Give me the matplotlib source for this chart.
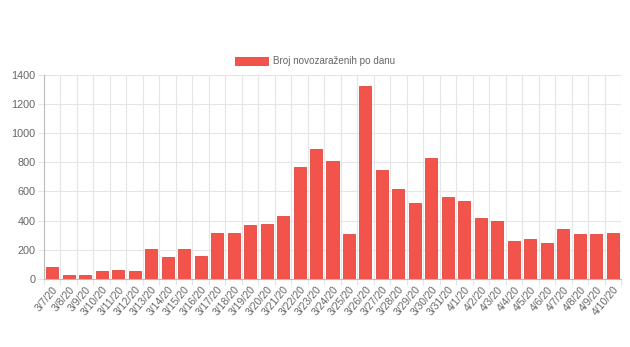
import numpy as np
import matplotlib.pyplot as plt
from matplotlib.patches import Patch

plt.rcParams['font.family'] = ['Liberation Sans', 'DejaVu Sans']

# daily new cases
dates = ['3/7/20', '3/8/20', '3/9/20', '3/10/20', '3/11/20', '3/12/20', '3/13/20',
         '3/14/20', '3/15/20', '3/16/20', '3/17/20', '3/18/20', '3/19/20', '3/20/20',
         '3/21/20', '3/22/20', '3/23/20', '3/24/20', '3/25/20', '3/26/20', '3/27/20',
         '3/28/20', '3/29/20', '3/30/20', '3/31/20', '4/1/20', '4/2/20', '4/3/20',
         '4/4/20', '4/5/20', '4/6/20', '4/7/20', '4/8/20', '4/9/20', '4/10/20']
new_cases = [80, 25, 27, 52, 64, 57, 203, 150, 205, 157, 315, 315, 367, 376, 429,
             768, 894, 812, 308, 1325, 750, 616, 518, 832, 563, 534, 420, 397,
             258, 271, 249, 342, 306, 306, 315]
series_label = 'Broj novozaraženih po danu'

bar_color = '#f2534b'
grid_color = '#e5e5e5'
text_color = '#666666'

fig = plt.figure(figsize=(6.3, 3.47), dpi=100)
ax = fig.add_axes([44 / 630, 1 - 279 / 347, (621 - 44) / 630, (279 - 74.7) / 347])

x = np.arange(len(dates))
ax.bar(x, new_cases, width=0.73, color=bar_color, edgecolor='#e04840', linewidth=0.6, zorder=3)

ax.set_xlim(-0.5, len(dates) - 0.5)
ax.set_ylim(0, 1400)
ax.set_yticks(np.arange(0, 1401, 200))

# chart.js-like grid: vertical lines between categories
for b in np.arange(-0.5, len(dates), 1.0):
    ax.axvline(b, color=grid_color, lw=0.8, zorder=0)
for yv in np.arange(200, 1401, 200):
    ax.axhline(yv, color=grid_color, lw=0.8, zorder=0)

ax.set_xticks(x)
ax.set_xticklabels(dates, rotation=50, ha='right', rotation_mode='anchor',
                   fontsize=7.5, color=text_color)
ax.tick_params(axis='x', length=0, pad=4)
ax.set_xticks(np.arange(-0.5, len(dates), 1.0), minor=True)
ax.tick_params(axis='x', which='minor', length=4, color=grid_color, width=0.8)
ax.tick_params(axis='y', labelsize=7.8, colors=text_color, length=4, width=0.8, pad=2)
ax.tick_params(axis='y', color=grid_color)

for s in ['top', 'right']:
    ax.spines[s].set_visible(False)
for s in ['left', 'bottom']:
    ax.spines[s].set_color('#bbbbbb')
    ax.spines[s].set_linewidth(0.8)

handle = Patch(facecolor=bar_color, edgecolor='#e04840', linewidth=0.6)
fig.legend([handle], [series_label], loc='center', bbox_to_anchor=(315 / 630, 1 - 61 / 347),
           frameon=False, fontsize=7.1, labelcolor=text_color,
           handlelength=3.35, handleheight=0.9, handletextpad=0.45)

fig.savefig('out.png', dpi=100, facecolor='white')
